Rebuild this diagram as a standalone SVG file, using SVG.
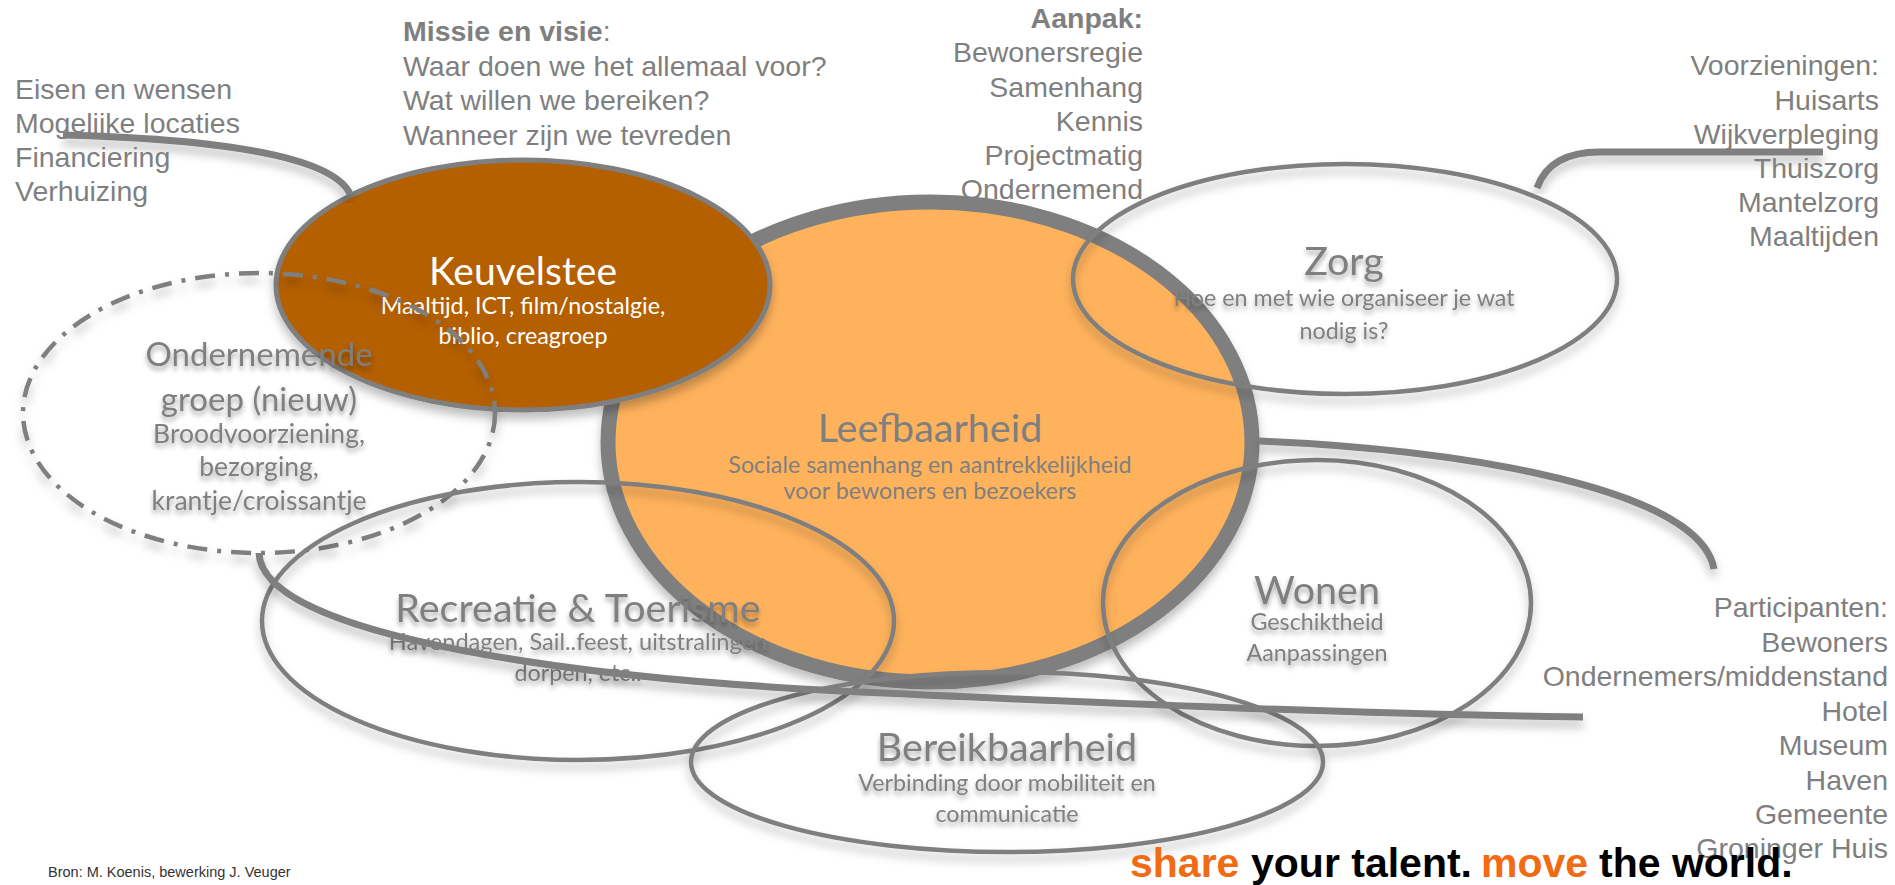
<svg xmlns="http://www.w3.org/2000/svg" width="1895" height="885" viewBox="0 0 1895 885">
<defs>
<filter id="sh" x="-10%" y="-10%" width="120%" height="125%"><feDropShadow dx="0" dy="7" stdDeviation="5" flood-color="#000" flood-opacity="0.25"/></filter>
<filter id="tsh" x="-10%" y="-20%" width="120%" height="150%"><feDropShadow dx="0" dy="4" stdDeviation="2.5" flood-color="#000" flood-opacity="0.35"/></filter>
</defs>
<style>
text{font-family:"Liberation Sans",Arial,sans-serif;fill:#7f7f7f;font-size:28.5px}
.b{font-weight:bold}
.r{text-anchor:end}
.c{font-family:Lato,"Open Sans",sans-serif;text-anchor:middle}
.h{font-size:39.5px}
.s{font-size:23.3px}
.m{font-size:26.5px}
.sd{filter:url(#tsh)}
.e{fill:none;stroke:#7f7f7f;stroke-width:4.5;filter:url(#sh)}
.l{fill:none;stroke:#7f7f7f;stroke-width:7;filter:url(#sh)}
.wt{fill:#fff}
.o{fill:#f26a12}
.k{fill:#000}
.tag{font-weight:bold;font-size:41px}
</style>
<rect width="1895" height="885" fill="#fff"/>
<g id="leefbaarheid">
<ellipse cx="930" cy="442" rx="322" ry="240" fill="#ffb25b" stroke="#7f7f7f" stroke-width="15" filter="url(#sh)"/>
<text class="c h" x="930" y="442">Leefbaarheid</text>
<text class="c s" x="930" y="473">Sociale samenhang en aantrekkelijkheid</text>
<text class="c s" x="930" y="499">voor bewoners en bezoekers</text>
</g>
<g id="keuvelstee">
<ellipse cx="523" cy="285" rx="247" ry="125" fill="#b45f00" stroke="#7f7f7f" stroke-width="5" filter="url(#sh)"/>
<text class="c wt" style="font-size:39px" x="523" y="285">Keuvelstee</text>
<text class="c s wt" x="523" y="314">Maaltijd, ICT, film/nostalgie,</text>
<text class="c s wt" x="523" y="344">biblio, creagroep</text>
</g>
<g id="ondernemende">
<ellipse class="e" cx="259" cy="413" rx="236" ry="140" stroke-width="5" stroke-dasharray="20 10 4 10"/>
<g class="sd">
<text class="c" style="font-size:33px" x="259" y="366">Ondernemende</text>
<text class="c" style="font-size:33px" x="259" y="411">groep (nieuw)</text>
<text class="c m" x="259" y="443">Broodvoorziening,</text>
<text class="c m" x="259" y="476">bezorging,</text>
<text class="c m" x="259" y="510">krantje/croissantje</text>
</g>
</g>
<g id="zorg">
<ellipse class="e" cx="1345" cy="279" rx="272" ry="115"/>
<g class="sd">
<text class="c h" x="1344" y="275">Zorg</text>
<text class="c s" x="1344" y="306">Hoe en met wie organiseer je wat</text>
<text class="c s" x="1344" y="339">nodig is?</text>
</g>
</g>
<g id="recreatie">
<ellipse class="e" cx="578" cy="621" rx="316" ry="139"/>
<g class="sd">
<text class="c h" x="578" y="622">Recreatie &amp; Toerisme</text>
<text class="c s" style="font-size:23.6px" x="578" y="650">Havendagen, Sail..feest, uitstralingen</text>
<text class="c s" x="578" y="681">dorpen, etc..</text>
</g>
</g>
<g id="wonen">
<ellipse class="e" cx="1317" cy="603" rx="214" ry="143"/>
<g class="sd">
<text class="c h" x="1317" y="604">Wonen</text>
<text class="c s" x="1317" y="630">Geschiktheid</text>
<text class="c s" x="1317" y="661">Aanpassingen</text>
</g>
</g>
<g id="bereikbaarheid">
<ellipse class="e" cx="1007" cy="762" rx="316" ry="90"/>
<g class="sd">
<text class="c h" x="1007" y="761">Bereikbaarheid</text>
<text class="c s" x="1007" y="791">Verbinding door mobiliteit en</text>
<text class="c s" x="1007" y="822">communicatie</text>
</g>
</g>
<g id="connectors">
<path class="l" d="M63 135C180 138 330 150 350 194"/>
<path class="l" d="M1537 188C1545 165 1565 152 1600 152L1823 152"/>
<path class="l" d="M1259 441C1470 450 1700 490 1714 569"/>
<path class="l" d="M259 553C262 640 600 680 860 692C1100 703 1350 714 1583 717"/>
</g>
<g id="labels">
<text x="15" y="99">Eisen en wensen</text>
<text x="15" y="133">Mogelijke locaties</text>
<text x="15" y="167">Financiering</text>
<text x="15" y="201">Verhuizing</text>
<text class="b" x="403" y="41">Missie en visie<tspan style="font-weight:normal">:</tspan></text>
<text x="403" y="76">Waar doen we het allemaal voor?</text>
<text x="403" y="110">Wat willen we bereiken?</text>
<text x="403" y="145">Wanneer zijn we tevreden</text>
<text class="b r" x="1143" y="28">Aanpak:</text>
<text class="r" x="1143" y="62">Bewonersregie</text>
<text class="r" x="1143" y="97">Samenhang</text>
<text class="r" x="1143" y="131">Kennis</text>
<text class="r" x="1143" y="165">Projectmatig</text>
<text class="r" x="1143" y="199">Ondernemend</text>
<text class="r" x="1879" y="75">Voorzieningen:</text>
<text class="r" x="1879" y="110">Huisarts</text>
<text class="r" x="1879" y="144">Wijkverpleging</text>
<text class="r" x="1879" y="178">Thuiszorg</text>
<text class="r" x="1879" y="212">Mantelzorg</text>
<text class="r" x="1879" y="246">Maaltijden</text>
<text class="r" x="1888" y="617">Participanten:</text>
<text class="r" x="1888" y="652">Bewoners</text>
<text class="r" x="1888" y="686">Ondernemers/middenstand</text>
<text class="r" x="1888" y="721">Hotel</text>
<text class="r" x="1888" y="755">Museum</text>
<text class="r" x="1888" y="790">Haven</text>
<text class="r" x="1888" y="824">Gemeente</text>
<text class="r" x="1888" y="858">Groninger Huis</text>
<text style="fill:#333;font-size:14.5px" x="48" y="877">Bron: M. Koenis, bewerking J. Veuger</text>
<text class="tag o" x="1130" y="877">share</text>
<text class="tag k" x="1251" y="877">your talent.</text>
<text class="tag o" x="1481" y="877">move</text>
<text class="tag k" x="1599" y="877">the world.</text>
</g>
</svg>
